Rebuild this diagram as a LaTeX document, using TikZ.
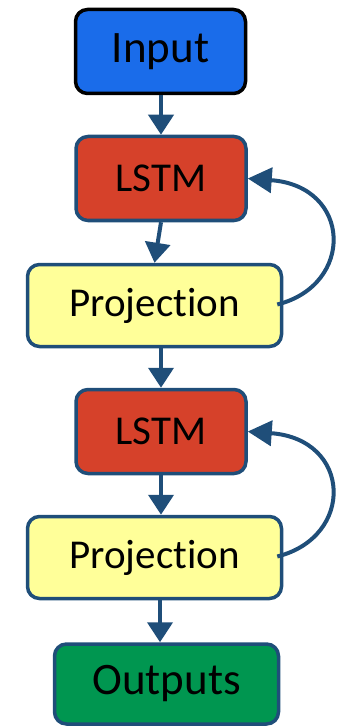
\documentclass[tikz,border=0pt]{standalone}
\usepackage{fontspec}
\setmainfont{Carlito}[Ligatures={NoCommon,NoRare,NoContextual}]
\usetikzlibrary{arrows.meta}
\definecolor{inblue}{RGB}{26,108,234}
\definecolor{lstmred}{RGB}{214,65,42}
\definecolor{projyellow}{RGB}{255,255,153}
\definecolor{outgreen}{RGB}{0,150,80}
\definecolor{edgeblue}{RGB}{31,78,121}
\tikzset{
  block/.style={draw=edgeblue, line width=3.5pt, rounded corners=12pt,
    inner sep=0pt, text=black},
  narrowblock/.style={block, minimum width=170pt, minimum height=84pt,
    font=\fontsize{41}{41}\selectfont},
  wideblock/.style={block, minimum width=254pt, minimum height=82pt,
    font=\fontsize{41}{41}\selectfont},
  flow/.style={draw=edgeblue, line width=4pt,
    -{Triangle[length=20pt,width=25pt]}},
  loopback/.style={draw=edgeblue, line width=4pt,
    -{Triangle[length=24pt,width=25pt]}}
}
\begin{document}
\begin{tikzpicture}[x=1pt,y=-1pt]
\useasboundingbox (0,0) rectangle (343,727);
\node[narrowblock, draw=black, fill=inblue, font=\fontsize{45}{45}\selectfont]
  (input) at (160.5,51.5) {Input};
\node[narrowblock, fill=lstmred] (lstma) at (161,178.5) {LSTM};
\node[wideblock, fill=projyellow] (proja) at (154.5,305.5) {Projection};
\node[narrowblock, fill=lstmred] (lstmb) at (161,431.5) {LSTM};
\node[wideblock, fill=projyellow] (projb) at (154.5,557.5) {Projection};
\node[block, fill=outgreen, minimum width=224pt, minimum height=80pt,
  font=\fontsize{45}{45}\selectfont] (outputs) at (166.5,684) {Outputs};

\draw[flow] (input.south -| lstma) -- (lstma.north);
\draw[flow] (lstma.south) -- (proja.north);
\draw[flow] (proja.south -| lstmb) -- (lstmb.north);
\draw[flow] (lstmb.south) -- (projb.north -| lstmb);
\draw[flow] (projb.south -| 160,0) -- (outputs.north -| 160,0);

\coordinate (fa) at ([xshift=-6pt,yshift=1pt]proja.east);
\coordinate (fb) at ([xshift=-6pt,yshift=1pt]projb.east);
\draw[loopback] (fa) .. controls (355,285) and (352,186) .. (lstma.east);
\draw[loopback] (fb) .. controls (355,537) and (352,439) .. (lstmb.east);
\end{tikzpicture}
\end{document}
